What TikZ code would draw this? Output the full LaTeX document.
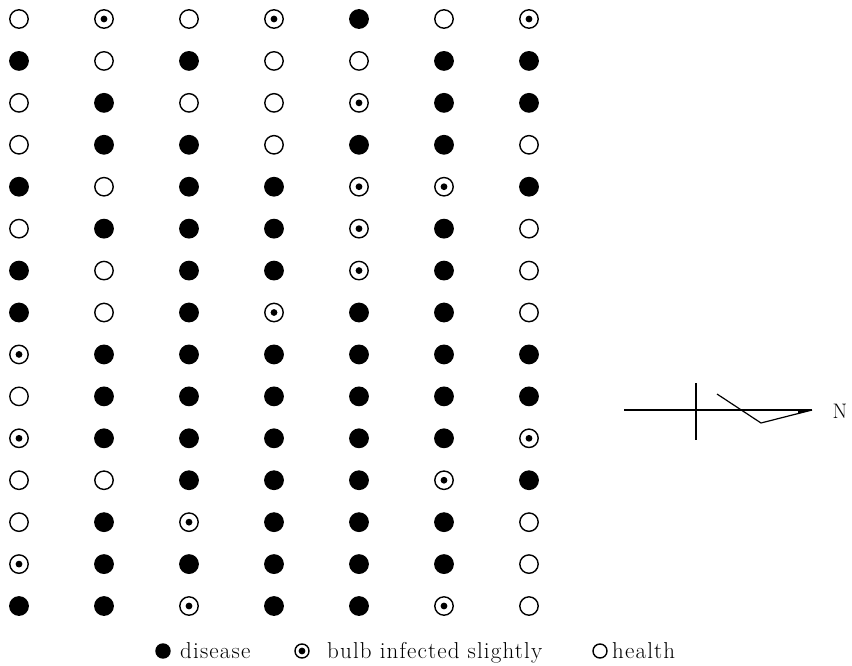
\documentclass[tikz,border=0pt]{standalone}
\usepackage{fontspec}
\setmainfont{Latin Modern Roman}
\newfontfamily\keyfont[LetterSpace=5]{Latin Modern Roman}
\tikzset{
  plant/.style={circle, draw, line width=1.4pt, minimum size=18.4pt, inner sep=0pt},
  t0/.style={plant},
  t1/.style={plant, path picture={\fill (path picture bounding box.center) circle (3.4pt);}},
  t2/.style={plant, fill=black},
  keysym/.style={minimum size=14pt},
  keytext/.style={anchor=base west, inner sep=0pt, font=\fontsize{23}{26}\keyfont},
  compass/.style={line width=1.2pt},
}
\begin{document}
\begin{tikzpicture}[x=1pt, y=1pt]
  \useasboundingbox (0,0) rectangle (852,-666);
  % field plan: 0 = health, 1 = bulb infected slightly, 2 = disease
  \foreach \row [count=\r] in {
      {0,1,0,1,2,0,1},
      {2,0,2,0,0,2,2},
      {0,2,0,0,1,2,2},
      {0,2,2,0,2,2,0},
      {2,0,2,2,1,1,2},
      {0,2,2,2,1,2,0},
      {2,0,2,2,1,2,0},
      {2,0,2,1,2,2,0},
      {1,2,2,2,2,2,2},
      {0,2,2,2,2,2,2},
      {1,2,2,2,2,2,1},
      {0,0,2,2,2,1,2},
      {0,2,1,2,2,2,0},
      {1,2,2,2,2,2,0},
      {2,2,1,2,2,1,0}} {
    \foreach \t [count=\c] in \row {
      \node[t\t] (p-\r-\c) at ({19+85*(\c-1)}, {-(19+41.93*(\r-1))}) {};
    }
  }
  % north sign
  \coordinate (cw) at (624,-410);
  \coordinate (ctip) at (812,-410);
  \coordinate (ctop) at (696,-383);
  \coordinate (cbot) at (696,-440);
  \coordinate (cz1) at (717,-394);
  \coordinate (cz2) at (761,-423);
  \draw[compass] (cw) -- (ctip);
  \draw[compass] (ctop) -- (cbot);
  \draw[compass, line join=miter] (cz1) -- (cz2) -- (ctip);
  \fill (ctip) -- (798,-410) -- (798,-414) -- cycle;
  \node[inner sep=0pt, font=\fontsize{21}{24}\selectfont] (north) at (840,-411) {N};
  % legend
  \node[t2, keysym] (k2) at (163,-651) {};
  \node[keytext] (l2) at (180,-658) {disease};
  \node[t1, keysym] (k1) at (302,-651) {};
  \node[keytext] (l1) at (327,-658) {bulb infected slightly};
  \node[t0, keysym] (k0) at (600,-651) {};
  \node[keytext] (l0) at (612,-658) {health};
\end{tikzpicture}
\end{document}
